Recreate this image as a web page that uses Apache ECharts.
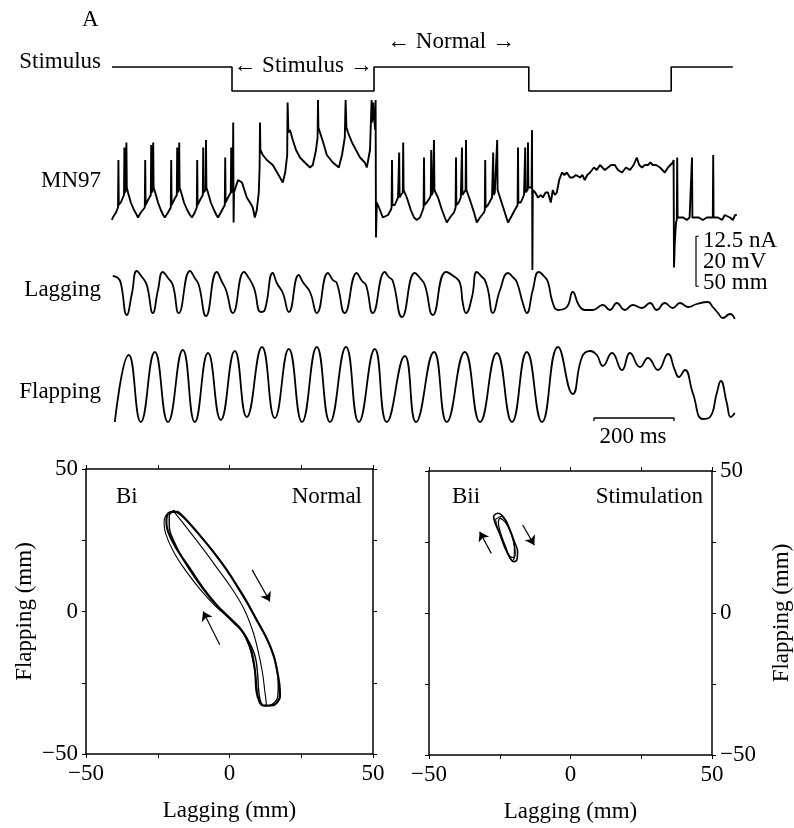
<!DOCTYPE html>
<html><head><meta charset="utf-8">
<script src="https://cdn.jsdelivr.net/npm/echarts@6/dist/echarts.min.js"></script>
<style>html,body{margin:0;padding:0;background:#fff}#c{width:794px;height:828px}</style>
</head><body><div id="c"></div>
<script>
// ---------- Panel A data (time in ms) ----------
const stimTrace = [[0,1],[300,1],[300,0],[655,0],[655,1],[1042,1],[1042,0],[1398,0],[1398,1],[1552,1]];

const mn97Trace = [
[0,-61],[2,-60],[10,-58],[15,-56],[16,-37],[17,-55],[22,-54],[30,-51],[31,-32],[32,-50],[35,-49],[36,-30],[37,-48],[40,-50],[47,-54],[55,-57],[62,-59],
[65,-60],[72,-58],[82,-56],[83,-37],[84,-55],[90,-53],[97,-51],[98,-31],[99,-50],[102,-49],[103,-30],[104,-48],[108,-50],[115,-54],[122,-57],[128,-59],
[132,-60],[140,-58],[147,-56],[148,-37],[149,-55],[155,-53],[162,-51],[163,-32],[164,-50],[167,-49],[168,-30],[169,-48],[173,-50],[180,-54],[188,-57],[195,-59],
[200,-60],[207,-58],[212,-56],[213,-37],[214,-55],[220,-53],[227,-51],[228,-32],[229,-50],[234,-49],[235,-29],[236,-48],[240,-50],[247,-54],[255,-57],[261,-59],
[265,-60],[272,-58],[282,-55],[283,-36],[284,-54],[290,-52],[297,-50],[298,-32],[299,-50],[302,-49],[303,-22],[304,-62],[305,-50],
[307,-49],[315,-45],[325,-46],[337,-52],[345,-54],[352,-56],[357,-60],[362,-57],[367,-50],[369,-40],[370,-22],[371,-33],[377,-35],[387,-37],[402,-39],[420,-44],[427,-46],[433,-42],[438,-35],[439,-14],[441,-26],[445,-25],[452,-29],[460,-33],[470,-36],[482,-38],[495,-40],
[502,-39],[510,-33],[514,-28],[515,-13],[516,-24],[520,-24],[528,-30],[537,-35],[552,-38],[567,-40],
[575,-35],[582,-28],[584,-13],[586,-24],[590,-26],[600,-30],[620,-36],[632,-38],[637,-40],
[645,-33],[648,-18],[649,-13],[650,-22],[652,-18],[653,-14],[655,-20],[658,-25],[659,-13],[660,-68],
[662,-54],[670,-57],[677,-60],[690,-59],[697,-57],[699,-56],[700,-37],[701,-55],[707,-55],[715,-52],[717,-52],[718,-34],[719,-52],[722,-51],[727,-50],[728,-30],[729,-49],[730,-49],[737,-52],[747,-57],[755,-60],[762,-61],
[770,-60],[777,-57],[779,-56],[780,-36],[781,-55],[787,-54],[795,-52],[797,-51],[798,-33],[799,-51],[802,-50],[804,-50],[805,-29],[806,-49],[807,-49],[815,-52],[825,-57],[832,-60],[837,-62],
[845,-60],[855,-58],[859,-56],[860,-36],[861,-55],[867,-54],[872,-52],[874,-52],[875,-32],[876,-51],[880,-50],[884,-49],[885,-29],[886,-49],[887,-49],[895,-53],[905,-58],[912,-62],
[920,-60],[930,-58],[932,-57],[933,-37],[934,-56],[940,-55],[950,-52],[952,-52],[953,-34],[954,-51],[957,-50],[962,-50],[963,-29],[964,-49],[965,-49],[972,-53],[982,-58],[990,-62],
[997,-60],[1007,-57],[1014,-55],[1015,-32],[1016,-54],[1022,-54],[1030,-51],[1032,-51],[1033,-32],[1034,-50],[1037,-50],[1039,-49],[1040,-30],[1041,-48],[1045,-48],[1049,-48],[1050,-25],[1051,-81],[1052,-49],
[1058,-50],[1065,-52],[1072,-51],[1077,-52],[1084,-50],[1090,-50],[1097,-54],[1102,-49],[1107,-51],[1112,-50],[1118,-45],[1125,-42],[1131,-43],[1137,-42],[1145,-44],[1152,-44],[1160,-43],[1170,-44],[1176,-43],[1182,-45],[1188,-43],[1195,-42],[1205,-40],[1212,-41],[1220,-39],[1226,-40],[1232,-41],[1240,-40],[1248,-39],[1257,-39],[1265,-41],[1275,-42],[1285,-40],[1295,-41],[1304,-39],[1312,-36],[1318,-39],[1325,-40],[1332,-39],[1340,-39],[1346,-38],[1352,-39],[1360,-39],[1370,-40],[1376,-41],[1382,-42],[1390,-40],[1395,-40],[1402,-38],[1404,-37],[1405,-80],[1407,-70],[1410,-62],[1412,-61],[1413,-36],[1414,-60],[1420,-60],[1428,-60],[1437,-61],[1444,-60],[1449,-60],[1450,-36],[1451,-60],[1457,-60],[1467,-60],[1477,-61],[1487,-60],[1495,-60],[1502,-60],[1503,-35],[1504,-60],[1507,-60],[1515,-60],[1525,-61],[1532,-59],[1537,-59],[1545,-60],[1552,-61],[1558,-59],[1562,-59]
];

const laggingTrace = [
[2,18],[15,16],[22,11],[37,-21],[50,1],[62,23],[75,17],[85,11],[90,4],[102,-19],[115,4],[127,22],[140,16],[152,9],[167,-19],[195,23],[207,16],[217,9],[235,-22],[262,22],[275,12],[285,4],[302,-19],[330,22],[342,16],[355,6],[372,-18],[382,-16],[402,21],[412,11],[427,1],[442,-18],[467,19],[477,12],[495,2],[512,-19],[540,21],[552,14],[562,11],[582,-19],[612,21],[625,13],[635,9],[652,-19],[682,22],[692,17],[702,13],[725,-23],[757,21],[770,16],[782,9],[802,-21],[835,22],[857,17],[870,11],[877,-9],[885,-19],[900,-3],[912,22],[925,17],[932,14],[940,4],[952,-19],[970,4],[990,21],[1002,17],[1012,12],[1027,-9],[1037,-19],[1052,4],[1067,22],[1082,17],[1090,12],[1102,-9],[1115,-16],[1137,-13],[1152,2],[1167,-11],[1182,-16],[1202,-16],[1227,-11],[1245,-16],[1262,-9],[1282,-16],[1302,-11],[1325,-14],[1345,-9],[1362,-16],[1382,-9],[1402,-14],[1420,-9],[1440,-13],[1462,-10],[1490,-8],[1502,-13],[1515,-19],[1527,-24],[1545,-20],[1557,-25]
];

const flappingTrace = [
[7,-36],[42,31],[72,-36],[107,34],[140,-36],[177,36],[207,-36],[240,33],[272,-34],[307,35],[337,-31],[375,39],[407,-32],[442,37],[475,-36],[512,39],[545,-36],[585,39],[617,-36],[657,37],[687,-36],[732,30],[760,-36],[805,34],[837,-36],[882,34],[920,-36],[962,33],[1000,-36],[1037,34],[1075,-36],[1115,39],[1152,-8],[1175,29],[1195,35],[1212,31],[1227,20],[1250,33],[1275,16],[1295,33],[1320,19],[1340,28],[1365,16],[1390,32],[1407,16],[1417,9],[1432,16],[1452,-7],[1477,-33],[1495,-31],[1512,-7],[1522,5],[1537,-17],[1547,-31],[1557,-27]
];

// scale bars
const voltBar = [[1467,-67.5],[1460,-67.5],[1460,-87.5],[1467,-87.5]];   // 20 mV
const timeBar = [[1205,-35],[1205,-32],[1405,-32],[1405,-35]];           // 200 ms
const scaleLabels = ['12.5 nA', '20 mV', '50 mm'];

// ---------- Panel B data (mm) ----------
const biLoop1 = [[-17.9,35.0],[-15.0,32.1],[-10.4,26.8],[-5.7,21.0],[-1.0,14.6],[2.4,9.3],[5.9,3.5],[9.4,-2.9],[12.9,-9.3],[15.3,-15.2],[16.4,-19.8],[17.4,-25.6],[17.6,-29.7],[16.4,-32.1],[14.7,-33.0],[11.8,-33.0],[10.4,-31.5],[9.4,-28.0],[8.9,-21.0],[7.7,-14.0],[5.9,-9.3],[3.6,-5.8],[0.1,-2.3],[-4.5,2.3],[-9.2,8.2],[-13.9,15.2],[-18.5,22.1],[-21.4,28.0],[-22.0,31.5],[-20.9,34.7],[-17.9,35.0]];
const biLoop2 = [[-19.5,35.5],[-16,33],[-11,27.5],[-6,21.5],[-1.5,15.5],[2,10],[5.5,4.5],[9,-2],[12.5,-8.5],[15,-14.5],[16.5,-20],[17,-26],[16.8,-30],[15,-32.5],[12.5,-33.2],[11,-32],[10.2,-28],[9.8,-22],[9,-16],[7,-11],[4.5,-7],[1.5,-4],[-2.5,0],[-7,5],[-11.5,11],[-16,18],[-19.5,25],[-21,30],[-21,33.5],[-19.5,35.5]];
const biLoop3 = [[-19.5,35.2],[-15,29.5],[-10,23],[-4.5,15.5],[0.5,8.5],[5,1],[8,-6.5],[10,-14],[11.5,-21.5],[12.3,-28],[12.8,-32.5],[11.5,-33],[10,-30.5],[9.3,-24],[8.4,-18.5],[6.8,-12],[4,-6.5],[0,-2.5],[-5,2],[-10,7.5],[-15,14],[-19.5,21],[-22.3,27.5],[-22.8,31.5],[-21.5,34.5],[-19.5,35.2]];
const biiLoop1 = [[-27.2,34.2],[-25.7,35.1],[-23.3,33.3],[-21.6,29.8],[-19.8,25.1],[-18.7,21.6],[-18.9,18.9],[-20.1,18.1],[-21.6,19.8],[-23.3,23.3],[-25.1,28.1],[-26.8,32.1],[-27.2,34.2]];
const biiLoop2 = [[-25,33.5],[-23,32],[-21,28],[-19.8,23],[-20.2,19.5],[-21.5,20],[-23,23.5],[-24.8,28.5],[-25.5,32],[-25,33.5]];
const biiLoop3 = [[-26.5,33],[-24.5,34],[-22.2,31],[-20.5,26.5],[-19.5,21],[-20.5,18.5],[-22,20.5],[-23.8,25],[-25.8,30],[-26.5,33]];
const biArrows = [[[7.9,14.6],[14.1,3.5]], [[-3.4,-11.7],[-9.2,0]]];
const biiArrows = [[[-28,21],[-32.1,28.6]], [[-16.9,31],[-12.8,23.9]]];
const phaseTicks = [-50, -25, 0, 25, 50];

// ---------- chart ----------
const FONT = '"Liberation Serif","Times New Roman",serif';
const FS = 23;
const chart = echarts.init(document.getElementById('c'), null, {renderer: 'canvas'});
const fmt = v => (v % 50 === 0 ? (v < 0 ? '\u2212' + Math.abs(v) : String(v)) : '');

const hidX = i => ({type: 'value', gridIndex: i, min: 0, max: 1580, show: false});
function hidY(i, mn, mx) { return {type: 'value', gridIndex: i, min: mn, max: mx, show: false}; }
function phaseAxis(i, pos, labels, name, nameGap, nameRotate) {
  return {
    type: 'value', gridIndex: i, position: pos, min: phaseTicks[0], max: phaseTicks[phaseTicks.length - 1], interval: 25,
    axisLine: {show: true, onZero: false, lineStyle: {color: '#000', width: 1.5}},
    axisTick: {show: true, inside: false, length: 4, lineStyle: {color: '#000', width: 1}},
    axisLabel: {show: labels, formatter: fmt, color: '#000', fontFamily: FONT, fontSize: FS, margin: 8},
    splitLine: {show: false},
    name: name || '', nameLocation: 'middle', nameGap: nameGap || 0, nameRotate: nameRotate,
    nameTextStyle: {color: '#000', fontFamily: FONT, fontSize: FS}
  };
}
function line(xi, yi, data, w, smooth) {
  return {type: 'line', xAxisIndex: xi, yAxisIndex: yi, data: data, showSymbol: false, symbol: 'none',
    smooth: smooth || false, lineStyle: {color: '#000', width: w}, silent: true, animation: false, clip: false};
}
function arrows(xi, yi, list) {
  return {type: 'lines', coordinateSystem: 'cartesian2d', xAxisIndex: xi, yAxisIndex: yi,
    data: list.map(c => ({coords: c})), symbol: ['none', 'arrow'], symbolSize: 9,
    lineStyle: {color: '#000', width: 1.2, opacity: 1}, silent: true, animation: false};
}
function txt(x, y, s, align) {
  return {type: 'text', x: x, y: y, silent: true,
    style: {text: s, fill: '#000', font: FS + 'px ' + FONT, align: align || 'left', verticalAlign: 'middle'}};
}

const option = {
  backgroundColor: '#fff',
  animation: false,
  grid: [
    {left: 112, top: 55, width: 632, height: 48},
    {left: 112, top: 95, width: 632, height: 200},
    {left: 112, top: 254, width: 632, height: 80},
    {left: 112, top: 336, width: 632, height: 100},
    {left: 86, top: 469, width: 287, height: 285},
    {left: 429, top: 471, width: 285, height: 284}
  ],
  xAxis: [
    hidX(0), hidX(1), hidX(2), hidX(3),
    phaseAxis(4, 'bottom', true, 'Lagging (mm)', 45),
    phaseAxis(4, 'top', false),
    phaseAxis(5, 'bottom', true, 'Lagging (mm)', 45),
    phaseAxis(5, 'top', false)
  ],
  yAxis: [
    hidY(0, -0.5, 1.5), hidY(1, -91, -11), hidY(2, -40, 40), hidY(3, -50, 50),
    phaseAxis(4, 'left', true, 'Flapping (mm)', 50, 90),
    phaseAxis(4, 'right', false),
    phaseAxis(5, 'left', false),
    phaseAxis(5, 'right', true, 'Flapping (mm)', 58, 90)
  ],
  series: [
    line(0, 0, stimTrace, 1.6),
    line(1, 1, mn97Trace, 1.9),
    line(1, 1, voltBar, 1.2),
    line(2, 2, laggingTrace, 1.8, 0.5),
    line(3, 3, flappingTrace, 1.8, 0.5),
    line(3, 3, timeBar, 1.3),
    line(4, 4, biLoop1, 2.1, 0.4),
    line(4, 4, biLoop2, 1.4, 0.4),
    line(4, 4, biLoop3, 1.1, 0.4),
    arrows(4, 4, biArrows),
    line(6, 7, biiLoop1, 1.6, 0.4),
    line(6, 7, biiLoop2, 1.3, 0.4),
    line(6, 7, biiLoop3, 1.1, 0.4),
    arrows(6, 7, biiArrows)
  ],
  graphic: [
    txt(82, 20, 'A'),
    txt(101, 62, 'Stimulus', 'right'),
    txt(303, 66, '\u2190 Stimulus \u2192', 'center'),
    txt(451, 42, '\u2190 Normal \u2192', 'center'),
    txt(101, 181, 'MN97', 'right'),
    txt(101, 290, 'Lagging', 'right'),
    txt(101, 392, 'Flapping', 'right'),
    txt(703, 241, scaleLabels[0]),
    txt(703, 262, scaleLabels[1]),
    txt(703, 283, scaleLabels[2]),
    txt(633, 437, '200 ms', 'center'),
    txt(116, 497, 'Bi'),
    txt(362, 497, 'Normal', 'right'),
    txt(452, 497, 'Bii'),
    txt(703, 497, 'Stimulation', 'right')
  ]
};
chart.setOption(option);
</script></body></html>
